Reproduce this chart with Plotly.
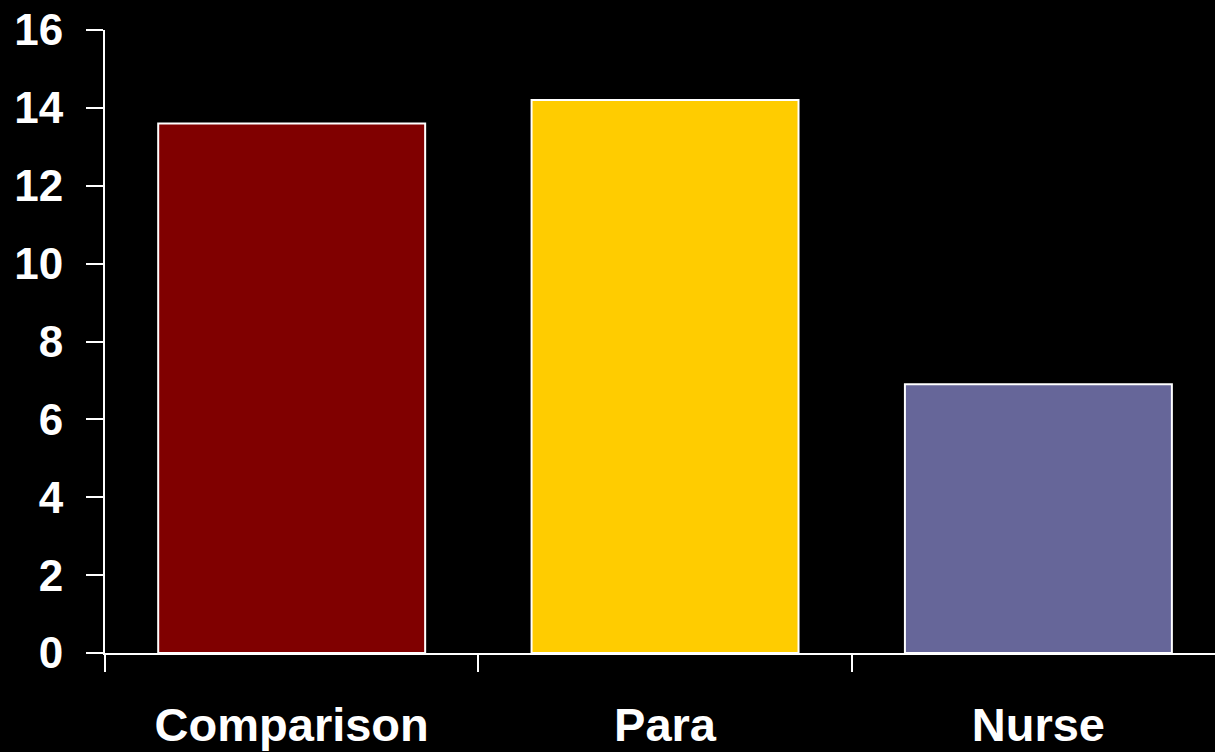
import plotly.graph_objects as go

categories = ["Comparison", "Para", "Nurse"]
values = [13.6, 14.2, 6.9]
bar_colors = ["#800000", "#FFCC00", "#666699"]
y_ticks = [0, 2, 4, 6, 8, 10, 12, 14, 16]

fig = go.Figure(
    go.Bar(
        x=categories,
        y=values,
        width=0.715,
        marker=dict(color=bar_colors, line=dict(color="white", width=2)),
    )
)

font = dict(family="Liberation Sans, Arial, sans-serif", color="white")

fig.update_layout(
    width=1215,
    height=752,
    margin=dict(l=105, r=0, t=30, b=99),
    paper_bgcolor="black",
    plot_bgcolor="black",
    showlegend=False,
    font=font,
)

fig.update_xaxes(
    range=[-0.5, 2.473],
    showline=True,
    linecolor="white",
    linewidth=2,
    ticks="outside",
    tickson="boundaries",
    ticklen=17,
    tickwidth=2,
    tickcolor="white",
    ticklabelstandoff=30,
    tickfont=dict(size=47, family="Liberation Sans, Arial, sans-serif", weight="bold", color="white"),
    showgrid=False,
    zeroline=False,
)

fig.update_yaxes(
    range=[0, 16],
    tickvals=y_ticks,
    showline=True,
    linecolor="white",
    linewidth=2,
    ticks="outside",
    ticklen=17,
    tickwidth=2,
    tickcolor="white",
    ticklabelstandoff=14,
    tickfont=dict(size=44, family="Liberation Sans, Arial, sans-serif", weight="bold", color="white"),
    showgrid=False,
    zeroline=False,
)

fig.write_html("out.html")
